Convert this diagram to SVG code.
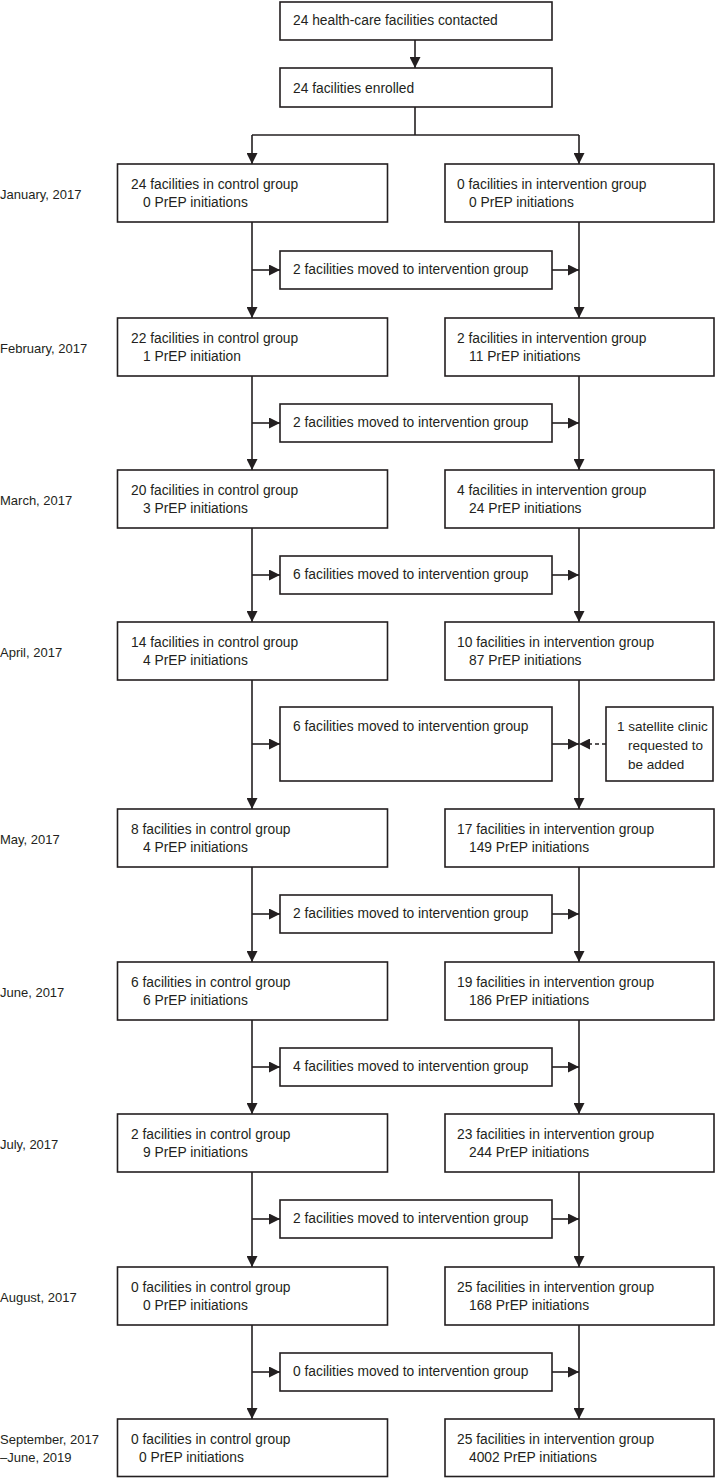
<svg xmlns="http://www.w3.org/2000/svg" width="715" height="1478" viewBox="0 0 715 1478">
<style>
.box{fill:#fff;stroke:#231f20;stroke-width:1.6}
.ln{fill:none;stroke:#231f20;stroke-width:1.6}
.dash{fill:none;stroke:#231f20;stroke-width:1.6;stroke-dasharray:4 3}
text{font-family:"Liberation Sans",Arial,sans-serif;font-size:13.8px;fill:#231f20}
text.lbl{font-size:13px}
text.sat{font-size:13.5px}
</style>
<defs>
<marker id="ah" markerUnits="userSpaceOnUse" markerWidth="11" markerHeight="11" refX="11" refY="5.5" orient="auto">
<path d="M0,0 L11,5.5 L0,11 z" fill="#231f20"/>
</marker>
</defs>
<rect width="715" height="1478" fill="#fff"/>
<g id="connectors">
<line class="ln" x1="415" y1="40" x2="415" y2="68" marker-end="url(#ah)"/>
<polyline class="ln" points="415,107 415,135"/>
<line class="ln" x1="252" y1="135" x2="579" y2="135"/>
<line class="ln" x1="252" y1="135" x2="252" y2="164" marker-end="url(#ah)"/>
<line class="ln" x1="579" y1="135" x2="579" y2="164" marker-end="url(#ah)"/>
<line class="ln" x1="252" y1="222" x2="252" y2="318" marker-end="url(#ah)"/>
<line class="ln" x1="579" y1="222" x2="579" y2="318" marker-end="url(#ah)"/>
<line class="ln" x1="252" y1="270" x2="280" y2="270" marker-end="url(#ah)"/>
<line class="ln" x1="552" y1="270" x2="579" y2="270" marker-end="url(#ah)"/>
<line class="ln" x1="252" y1="376" x2="252" y2="470" marker-end="url(#ah)"/>
<line class="ln" x1="579" y1="376" x2="579" y2="470" marker-end="url(#ah)"/>
<line class="ln" x1="252" y1="423" x2="280" y2="423" marker-end="url(#ah)"/>
<line class="ln" x1="552" y1="423" x2="579" y2="423" marker-end="url(#ah)"/>
<line class="ln" x1="252" y1="528" x2="252" y2="622" marker-end="url(#ah)"/>
<line class="ln" x1="579" y1="528" x2="579" y2="622" marker-end="url(#ah)"/>
<line class="ln" x1="252" y1="575" x2="280" y2="575" marker-end="url(#ah)"/>
<line class="ln" x1="552" y1="575" x2="579" y2="575" marker-end="url(#ah)"/>
<line class="ln" x1="252" y1="680" x2="252" y2="809" marker-end="url(#ah)"/>
<line class="ln" x1="579" y1="680" x2="579" y2="809" marker-end="url(#ah)"/>
<line class="ln" x1="252" y1="744" x2="280" y2="744" marker-end="url(#ah)"/>
<line class="ln" x1="552" y1="744" x2="579" y2="744" marker-end="url(#ah)"/>
<line class="dash" x1="606" y1="744" x2="579" y2="744" marker-end="url(#ah)"/>
<line class="ln" x1="252" y1="867" x2="252" y2="962" marker-end="url(#ah)"/>
<line class="ln" x1="579" y1="867" x2="579" y2="962" marker-end="url(#ah)"/>
<line class="ln" x1="252" y1="914" x2="280" y2="914" marker-end="url(#ah)"/>
<line class="ln" x1="552" y1="914" x2="579" y2="914" marker-end="url(#ah)"/>
<line class="ln" x1="252" y1="1020" x2="252" y2="1114" marker-end="url(#ah)"/>
<line class="ln" x1="579" y1="1020" x2="579" y2="1114" marker-end="url(#ah)"/>
<line class="ln" x1="252" y1="1067" x2="280" y2="1067" marker-end="url(#ah)"/>
<line class="ln" x1="552" y1="1067" x2="579" y2="1067" marker-end="url(#ah)"/>
<line class="ln" x1="252" y1="1172" x2="252" y2="1267" marker-end="url(#ah)"/>
<line class="ln" x1="579" y1="1172" x2="579" y2="1267" marker-end="url(#ah)"/>
<line class="ln" x1="252" y1="1219" x2="280" y2="1219" marker-end="url(#ah)"/>
<line class="ln" x1="552" y1="1219" x2="579" y2="1219" marker-end="url(#ah)"/>
<line class="ln" x1="252" y1="1325" x2="252" y2="1419" marker-end="url(#ah)"/>
<line class="ln" x1="579" y1="1325" x2="579" y2="1419" marker-end="url(#ah)"/>
<line class="ln" x1="252" y1="1372" x2="280" y2="1372" marker-end="url(#ah)"/>
<line class="ln" x1="552" y1="1372" x2="579" y2="1372" marker-end="url(#ah)"/>
</g>
<g id="contacted"><rect class="box" x="280" y="2" width="272" height="38"/><text x="293" y="25">24 health-care facilities contacted</text></g>
<g id="enrolled"><rect class="box" x="280" y="68" width="272" height="39"/><text x="293" y="93">24 facilities enrolled</text></g>

<g id="label-jan"><text class="lbl" x="0" y="199">January, 2017</text></g>
<g id="control-jan"><rect class="box" x="117.5" y="164" width="270" height="58"/><text x="131" y="189">24 facilities in control group</text><text x="143" y="207">0 PrEP initiations</text></g>
<g id="interv-jan"><rect class="box" x="445" y="164" width="269" height="58"/><text x="457" y="189">0 facilities in intervention group</text><text x="469" y="207">0 PrEP initiations</text></g>
<g id="moved-1"><rect class="box" x="280" y="251" width="272" height="38"/><text x="293" y="274">2 facilities moved to intervention group</text></g>

<g id="label-feb"><text class="lbl" x="0" y="353">February, 2017</text></g>
<g id="control-feb"><rect class="box" x="117.5" y="318" width="270" height="58"/><text x="131" y="343">22 facilities in control group</text><text x="143" y="361">1 PrEP initiation</text></g>
<g id="interv-feb"><rect class="box" x="445" y="318" width="269" height="58"/><text x="457" y="343">2 facilities in intervention group</text><text x="469" y="361">11 PrEP initiations</text></g>
<g id="moved-2"><rect class="box" x="280" y="404" width="272" height="38"/><text x="293" y="427">2 facilities moved to intervention group</text></g>

<g id="label-mar"><text class="lbl" x="0" y="505">March, 2017</text></g>
<g id="control-mar"><rect class="box" x="117.5" y="470" width="270" height="58"/><text x="131" y="495">20 facilities in control group</text><text x="143" y="513">3 PrEP initiations</text></g>
<g id="interv-mar"><rect class="box" x="445" y="470" width="269" height="58"/><text x="457" y="495">4 facilities in intervention group</text><text x="469" y="513">24 PrEP initiations</text></g>
<g id="moved-3"><rect class="box" x="280" y="556" width="272" height="38"/><text x="293" y="579">6 facilities moved to intervention group</text></g>

<g id="label-apr"><text class="lbl" x="0" y="657">April, 2017</text></g>
<g id="control-apr"><rect class="box" x="117.5" y="622" width="270" height="58"/><text x="131" y="647">14 facilities in control group</text><text x="143" y="665">4 PrEP initiations</text></g>
<g id="interv-apr"><rect class="box" x="445" y="622" width="269" height="58"/><text x="457" y="647">10 facilities in intervention group</text><text x="469" y="665">87 PrEP initiations</text></g>
<g id="moved-4"><rect class="box" x="280" y="707" width="272" height="74"/><text x="293" y="731">6 facilities moved to intervention group</text></g>
<g id="satellite"><rect class="box" x="606" y="707" width="107" height="74"/><text class="sat" x="617" y="731">1 satellite clinic</text><text class="sat" x="628" y="750">requested to</text><text class="sat" x="628" y="769">be added</text></g>

<g id="label-may"><text class="lbl" x="0" y="844">May, 2017</text></g>
<g id="control-may"><rect class="box" x="117.5" y="809" width="270" height="58"/><text x="131" y="834">8 facilities in control group</text><text x="143" y="852">4 PrEP initiations</text></g>
<g id="interv-may"><rect class="box" x="445" y="809" width="269" height="58"/><text x="457" y="834">17 facilities in intervention group</text><text x="469" y="852">149 PrEP initiations</text></g>
<g id="moved-5"><rect class="box" x="280" y="895" width="272" height="38"/><text x="293" y="918">2 facilities moved to intervention group</text></g>

<g id="label-jun"><text class="lbl" x="0" y="997">June, 2017</text></g>
<g id="control-jun"><rect class="box" x="117.5" y="962" width="270" height="58"/><text x="131" y="987">6 facilities in control group</text><text x="143" y="1005">6 PrEP initiations</text></g>
<g id="interv-jun"><rect class="box" x="445" y="962" width="269" height="58"/><text x="457" y="987">19 facilities in intervention group</text><text x="469" y="1005">186 PrEP initiations</text></g>
<g id="moved-6"><rect class="box" x="280" y="1048" width="272" height="38"/><text x="293" y="1071">4 facilities moved to intervention group</text></g>

<g id="label-jul"><text class="lbl" x="0" y="1149">July, 2017</text></g>
<g id="control-jul"><rect class="box" x="117.5" y="1114" width="270" height="58"/><text x="131" y="1139">2 facilities in control group</text><text x="143" y="1157">9 PrEP initiations</text></g>
<g id="interv-jul"><rect class="box" x="445" y="1114" width="269" height="58"/><text x="457" y="1139">23 facilities in intervention group</text><text x="469" y="1157">244 PrEP initiations</text></g>
<g id="moved-7"><rect class="box" x="280" y="1200" width="272" height="38"/><text x="293" y="1223">2 facilities moved to intervention group</text></g>

<g id="label-aug"><text class="lbl" x="0" y="1302">August, 2017</text></g>
<g id="control-aug"><rect class="box" x="117.5" y="1267" width="270" height="58"/><text x="131" y="1292">0 facilities in control group</text><text x="143" y="1310">0 PrEP initiations</text></g>
<g id="interv-aug"><rect class="box" x="445" y="1267" width="269" height="58"/><text x="457" y="1292">25 facilities in intervention group</text><text x="469" y="1310">168 PrEP initiations</text></g>
<g id="moved-8"><rect class="box" x="280" y="1353" width="272" height="38"/><text x="293" y="1376">0 facilities moved to intervention group</text></g>

<g id="label-sep"><text class="lbl" x="0" y="1444">September, 2017</text><text class="lbl" x="0" y="1462">–June, 2019</text></g>
<g id="control-sep"><rect class="box" x="117.5" y="1419" width="270" height="57.5"/><text x="131" y="1444">0 facilities in control group</text><text x="139" y="1462">0 PrEP initiations</text></g>
<g id="interv-sep"><rect class="box" x="445" y="1419" width="269" height="57.5"/><text x="457" y="1444">25 facilities in intervention group</text><text x="469" y="1462">4002 PrEP initiations</text></g>
</svg>
